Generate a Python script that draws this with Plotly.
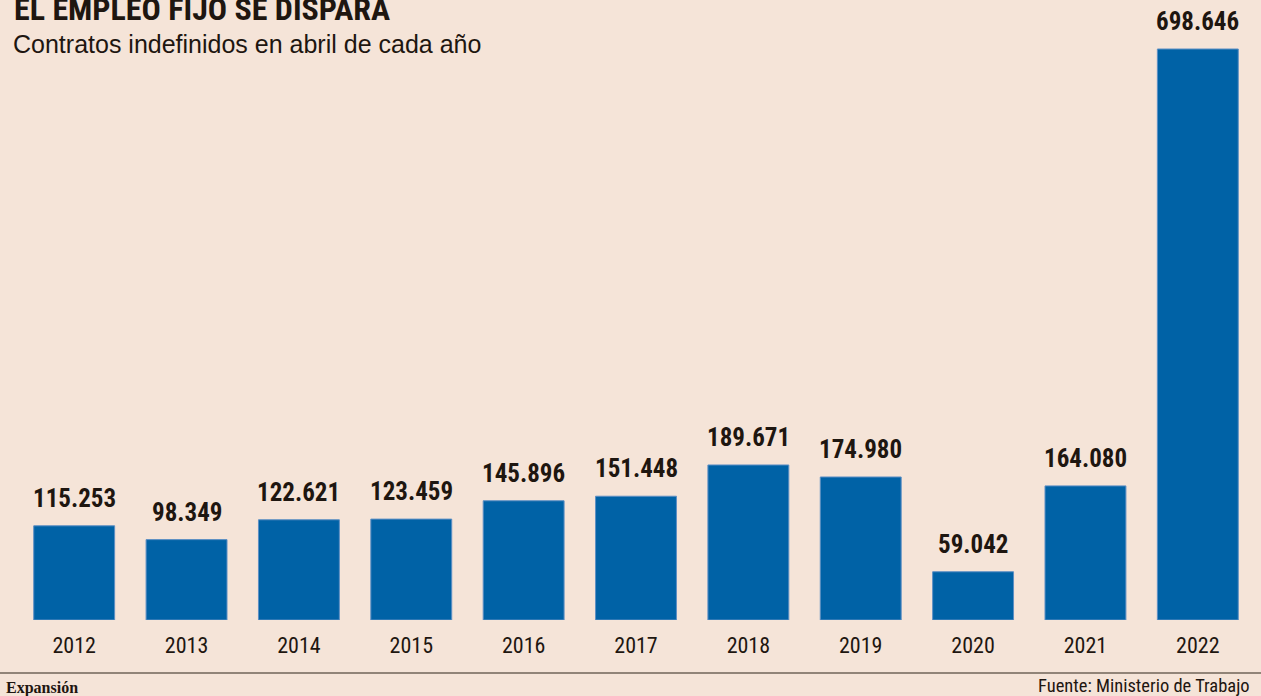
import plotly.graph_objects as go

years = ["2012", "2013", "2014", "2015", "2016", "2017", "2018", "2019", "2020", "2021", "2022"]
values = [115253, 98349, 122621, 123459, 145896, 151448, 189671, 174980, 59042, 164080, 698646]
labels = ["115.253", "98.349", "122.621", "123.459", "145.896", "151.448",
          "189.671", "174.980", "59.042", "164.080", "698.646"]

BG = "#f5e4d8"
BAR = "#0062a6"
TXT = "#1e1610"
COND = "Roboto Condensed"

W, H = 1261, 696
T, B, L, R = 40, 76, 18, 7
ph = H - T - B

def py(pix):
    return (H - B - pix) / ph

fig = go.Figure()
fig.add_trace(go.Bar(
    x=years, y=values, width=0.72,
    marker=dict(color=BAR, line=dict(color="#5d8fc4", width=1)),
    hoverinfo="skip",
))

for i, (v, lab) in enumerate(zip(values, labels)):
    fig.add_annotation(x=i, y=v, xref="x", yref="y", text="<b>" + lab + "</b>", showarrow=False,
                       yanchor="bottom", yshift=11,
                       font=dict(family=COND, size=25, color=TXT))

ann = [
    dict(text="<b>EL EMPLEO FIJO SE DISPARA</b>", x=12, y=30, size=32,
         fam=COND, anchor="left", ya="bottom"),
    dict(text="Contratos indefinidos en abril de cada año", x=11, y=60, size=25,
         fam="Liberation Sans", anchor="left", ya="bottom"),
    dict(text="<b>Expansión</b>", x=4, y=688, size=16,
         fam="Liberation Serif", anchor="left", ya="middle"),
    dict(text="Fuente: Ministerio de Trabajo", x=1252, y=686, size=18.5,
         fam=COND, anchor="right", ya="middle"),
]
for a in ann:
    fig.add_annotation(text=a["text"], xref="paper", yref="paper",
                       x=(a["x"] - L) / (W - L - R), y=py(a["y"]),
                       xanchor=a["anchor"], yanchor=a["ya"], showarrow=False,
                       font=dict(family=a["fam"], size=a["size"], color=TXT))

fig.add_shape(type="line", xref="paper", yref="paper",
              x0=-L / (W - L - R), x1=(W - L) / (W - L - R),
              y0=py(673), y1=py(673), line=dict(color="#6f6459", width=1.5))

fig.update_layout(
    width=W, height=H,
    margin=dict(t=T, b=B, l=L, r=R),
    paper_bgcolor=BG, plot_bgcolor=BG,
    showlegend=False,
    xaxis=dict(type="category", showgrid=False, zeroline=False, showline=False,
               ticks="outside", ticklen=6, tickcolor=BG,
               tickfont=dict(family=COND, size=22, color=TXT),
               range=[-0.5, 10.5]),
    yaxis=dict(visible=False, range=[0, 698646 * ph / 571]),
)

fig.write_html("out.html", config={"displayModeBar": False},
               post_script="document.body.style.margin='0';")
